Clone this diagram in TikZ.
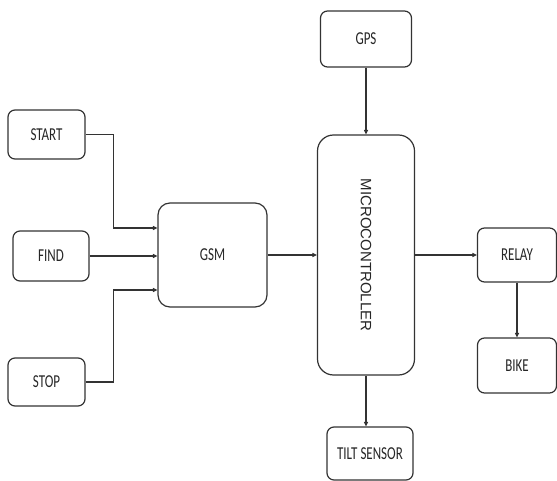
\documentclass[tikz,border=0pt]{standalone}
\usepackage{fontspec}
\setmainfont{Carlito}
\newfontfamily\mcufont{Liberation Sans}
\usetikzlibrary{arrows.meta, positioning}
\definecolor{edge}{HTML}{333333}
\newcommand{\tall}[1]{\scalebox{1}[1.4]{#1}}

\begin{document}
\begin{tikzpicture}[
    x=1pt, y=-1pt,
    every node/.style={font=\fontsize{13}{15}\selectfont, text=black!85},
    blk/.style={rectangle, draw=edge, line width=1.2pt, rounded corners=7pt,
                align=center, inner sep=0pt},
    arr/.style={-{Triangle[length=4.5pt,width=4pt]}, line width=1.1pt, edge}
]
    \useasboundingbox (0,0) rectangle (557,481);
    % input buttons
    \node[blk, minimum width=77pt, minimum height=49pt] (start) at (46.5,134.5) {\tall{START}};
    \node[blk, minimum width=76pt, minimum height=50pt] (find) at (51,256) {\tall{FIND}};
    \node[blk, minimum width=77pt, minimum height=48pt] (stop) at (46.5,382) {\tall{STOP}};
    % main blocks
    \node[blk, rounded corners=12pt, minimum width=109pt, minimum height=104pt] (gsm) at (212.5,255) {\tall{GSM}};
    \node[blk, minimum width=91pt, minimum height=56pt] (gps) at (366,39) {\tall{GPS}};
    \node[blk, rounded corners=16pt, minimum width=97pt, minimum height=240pt] (mcu) at (366,255)
        {\rotatebox{-90}{\mcufont\fontsize{15}{17}\selectfont MICROCONTROLLER}};
    \node[blk, minimum width=79pt, minimum height=54pt] (relay) at (517,255) {\tall{RELAY}};
    \node[blk, minimum width=79pt, minimum height=55pt] (bike) at (517,365.5) {\tall{BIKE}};
    \node[blk, minimum width=86pt, minimum height=53pt] (tilt) at (370,453.5) {\tall{TILT SENSOR}};
    % connections
    \draw[arr] (start.east) -- ++(28,0) |- ([yshift=27pt]gsm.west);
    \draw[arr] (find.east) -- (find.east -| gsm.west);
    \draw[arr] (stop.east) -- ++(28,0) |- ([yshift=-35pt]gsm.west);
    \draw[arr] (gsm.east) -- (mcu.west);
    \draw[arr] (gps.south) -- (mcu.north);
    \draw[arr] (mcu.east) -- (relay.west);
    \draw[arr] (relay.south) -- (bike.north);
    \draw[arr] (mcu.south) -- (mcu.south |- tilt.north);
\end{tikzpicture}
\end{document}
